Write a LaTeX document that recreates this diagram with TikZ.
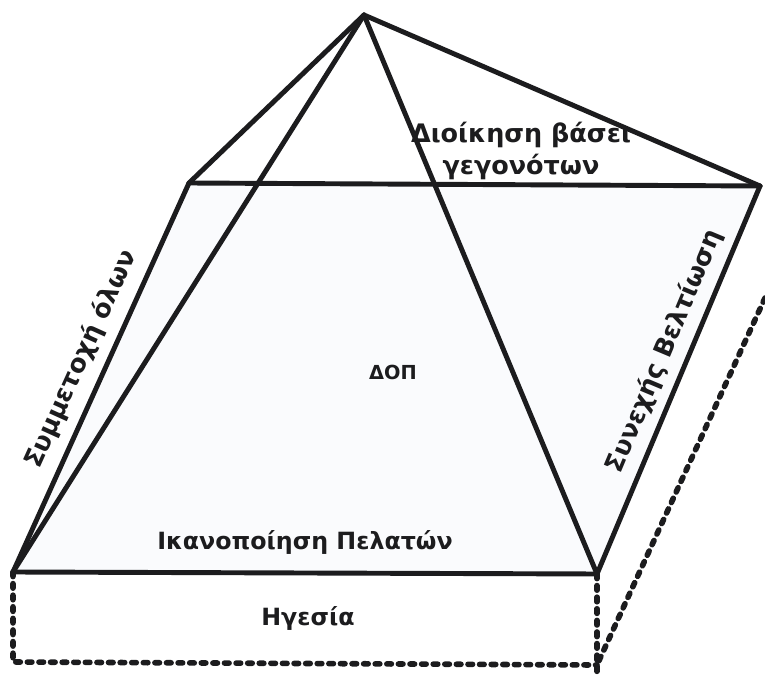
\documentclass[tikz,border=0pt]{standalone}
\usepackage{fontspec}
\setmainfont{DejaVu Sans}
\usepackage{xcolor}
\usetikzlibrary{positioning}
\definecolor{inkdark}{RGB}{28, 28, 30}
\definecolor{facesoft}{RGB}{250, 251, 253}
\tikzset{
    edge/.style  ={draw=inkdark, line width=2.8pt, line join=round, line cap=round},
    hidden/.style={draw=inkdark, line width=3.2pt, line cap=round,
                   dash pattern=on 2.6pt off 4pt},
    lbl/.style   ={font=\bfseries\fontsize{13.5}{18}\selectfont, text=inkdark,
                   inner sep=1pt, align=center},
    biglbl/.style={lbl, font=\bfseries\fontsize{14.5}{18.5}\selectfont},
    smalllbl/.style={lbl, font=\bfseries\fontsize{11}{13}\selectfont}
}

\begin{document}
\begin{tikzpicture}[x=0.02cm, y=-0.02cm]
  \useasboundingbox (0,0) rectangle (765,675);

  % corners
  \coordinate (top) at (364,15);
  \coordinate (bl)  at (189,183);
  \coordinate (br)  at (760,186);
  \coordinate (fl)  at (13,572);
  \coordinate (fr)  at (597,574);
  \coordinate (gl)  at (13,662);
  \coordinate (gr)  at (597,665);
  \coordinate (gend) at (597,675);
  \coordinate (sk)  at (765,298);

  % front face
  \fill[facesoft] (bl) -- (br) -- (fr) -- (fl) -- cycle;

  % base block, dashed
  \draw[hidden] (fl) -- (gl) -- (gr);
  \draw[hidden] (fr) -- (gend);
  \draw[hidden] (sk) -- (gr);

  % pyramid
  \draw[edge] (fl) -- (fr);
  \draw[edge] (bl) -- (br);
  \draw[edge] (fl) -- node[biglbl, sloped, above=5pt, pos=0.52] {Συμμετοχή όλων} (bl);
  \draw[edge] (fr) -- node[biglbl, sloped, above=4pt, pos=0.55] {Συνεχής Βελτίωση} (br);
  \draw[edge] (top) -- (bl);
  \draw[edge] (top) -- (fl);
  \draw[edge] (top) -- (fr);
  \draw[edge] (top) -- (br);

  % labels
  \node[biglbl] (goal) at (521,151) {Διοίκηση βάσει\\γεγονότων};
  \node[smalllbl] (dop) at (393,372) {ΔΟΠ};
  \node[lbl] (cust) at (305,542) {Ικανοποίηση Πελατών};
  \node[lbl] (lead) at (308,618) {Ηγεσία};
\end{tikzpicture}
\end{document}
